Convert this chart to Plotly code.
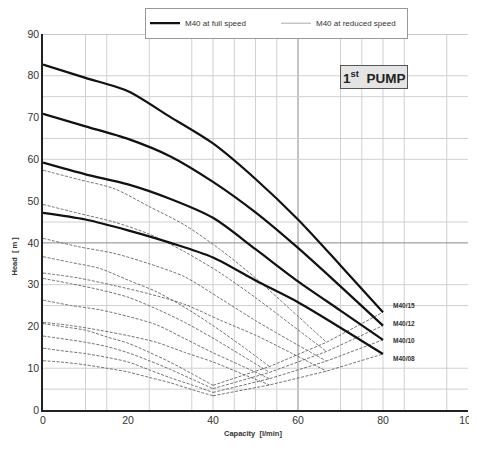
import plotly.graph_objects as go

# ---------------- data ----------------
pumps = ["M40/15", "M40/12", "M40/10", "M40/08"]

# full speed curves
q_full = [0, 10, 20, 30, 40, 50, 60, 70, 80]
h_full = {
    "M40/15": [82.7, 79.5, 76.3, 70.1, 63.8, 55.3, 45.6, 34.6, 23.4],
    "M40/12": [70.9, 67.9, 64.9, 60.7, 54.6, 47.3, 38.8, 29.6, 20.2],
    "M40/10": [59.2, 56.4, 54.0, 50.5, 46.0, 38.5, 30.8, 23.8, 16.8],
    "M40/08": [47.2, 45.6, 43.0, 40.0, 36.5, 31.0, 25.8, 19.7, 13.4],
}

# reduced speed curves (three speeds per pump)
q_red_a = [0, 8.3, 16.7, 25, 33.3, 41.7, 50, 58.3, 66.7]
q_red_b = [0, 6.7, 13.3, 20, 26.7, 33.3, 40, 46.7, 53.3]
q_red_c = [0, 5, 10, 15, 20, 25, 30, 35, 40]
h_red_a = {
    "M40/15": [57.4, 55.2, 53.0, 48.7, 44.3, 38.4, 31.6, 24.0, 16.2],
    "M40/12": [49.2, 47.1, 45.0, 42.1, 37.9, 32.8, 26.9, 20.5, 14.0],
    "M40/10": [41.1, 39.1, 37.5, 35.0, 31.9, 26.7, 21.4, 16.5, 11.7],
    "M40/08": [32.8, 31.6, 29.8, 27.8, 25.3, 21.5, 17.9, 13.7, 9.3],
}
h_red_b = {
    "M40/15": [36.7, 35.3, 33.9, 31.1, 28.3, 24.6, 20.2, 15.4, 10.4],
    "M40/12": [31.5, 30.2, 28.8, 27.0, 24.2, 21.0, 17.2, 13.1, 9.0],
    "M40/10": [26.3, 25.0, 24.0, 22.4, 20.4, 17.1, 13.7, 10.6, 7.5],
    "M40/08": [21.0, 20.2, 19.1, 17.8, 16.2, 13.8, 11.5, 8.7, 6.0],
}
h_red_c = {
    "M40/15": [20.7, 19.9, 19.1, 17.5, 16.0, 13.8, 11.4, 8.7, 5.9],
    "M40/12": [17.7, 17.0, 16.2, 15.2, 13.7, 11.8, 9.7, 7.4, 5.1],
    "M40/10": [14.8, 14.1, 13.5, 12.6, 11.5, 9.6, 7.7, 6.0, 4.2],
    "M40/08": [11.8, 11.4, 10.8, 10.0, 9.1, 7.8, 6.5, 4.9, 3.4],
}

# limit lines joining the curve ends
q_lim = [40, 53.3, 66.7, 80]
h_lim = {
    "M40/15": [5.9, 10.4, 16.2, 23.4],
    "M40/12": [5.1, 9.0, 14.0, 20.2],
    "M40/10": [4.2, 7.5, 11.7, 16.8],
    "M40/08": [3.4, 6.0, 9.3, 13.4],
}

label_y = [25.0, 20.8, 16.6, 12.3]

x_ticks = [0, 20, 40, 60, 80, 100]
y_ticks = [0, 10, 20, 30, 40, 50, 60, 70, 80, 90]
x_grid = [10, 15, 25, 35, 40, 45, 50, 55, 60, 70, 75, 80, 85, 95]
y_grid = [5, 10, 25, 30, 40, 45, 60, 65, 75, 80]
dark_x = [60]
dark_y = [40]

# ---------------- figure ----------------
FONT = "Liberation Sans, Arial, sans-serif"
fig = go.Figure()

red_style = dict(color="#505050", width=0.8, dash="3px,1.5px")
for p in pumps:
    for qq, hh in ((q_red_a, h_red_a[p]), (q_red_b, h_red_b[p]), (q_red_c, h_red_c[p])):
        fig.add_trace(go.Scatter(
            x=qq, y=hh, mode="lines", line=dict(shape="spline", smoothing=0.8, **red_style),
            name="M40 at reduced speed", legendgroup="red", showlegend=False,
            hoverinfo="skip"))
    fig.add_trace(go.Scatter(
        x=q_lim, y=h_lim[p], mode="lines", line=red_style,
        name="M40 at reduced speed", legendgroup="red", showlegend=False, hoverinfo="skip"))

for i, p in enumerate(pumps):
    fig.add_trace(go.Scatter(
        x=q_full, y=h_full[p], mode="lines",
        line=dict(color="#111111", width=2.2, shape="spline", smoothing=0.8),
        name="M40 at full speed", legendgroup="full", showlegend=(i == 0),
        legendrank=1))

# legend entry for reduced speed (solid thin sample like the reference)
fig.add_trace(go.Scatter(
    x=[None], y=[None], mode="lines", line=dict(color="#aaaaaa", width=1),
    name="M40 at reduced speed", legendgroup="red", showlegend=True, legendrank=2))

shapes = []
for gx in x_grid:
    shapes.append(dict(type="line", xref="x", yref="y", x0=gx, x1=gx, y0=0, y1=90,
                       line=dict(color="#8a8a8a" if gx in dark_x else "#d0d0d0", width=1),
                       layer="below"))
for gy in y_grid:
    shapes.append(dict(type="line", xref="x", yref="y", x0=0, x1=100, y0=gy, y1=gy,
                       line=dict(color="#8a8a8a" if gy in dark_y else "#d0d0d0", width=1),
                       layer="below"))
shapes.append(dict(type="line", xref="x", yref="y", x0=0, x1=100, y0=90, y1=90,
                   line=dict(color="#9a9a9a", width=1), layer="below"))

annotations = []
for p, ly in zip(pumps, label_y):
    annotations.append(dict(x=81.9, y=ly, xref="x", yref="y", text="<b>%s</b>" % p,
                            showarrow=False, xanchor="left", yanchor="middle",
                            font=dict(family=FONT, size=6.5, color="#333333")))
annotations.append(dict(x=77.9, y=79.6, xref="x", yref="y",
                        text="<b>1<sup>st</sup>  PUMP</b>", showarrow=False,
                        font=dict(family=FONT, size=13.5, color="#222222"),
                        bgcolor="#e4e4e4", bordercolor="#555555", borderwidth=1,
                        borderpad=2))
annotations.append(dict(x=0.494, y=-0.08, xref="paper", yref="paper",
                        text="<b>Capacity  [l/min]</b>", showarrow=False,
                        font=dict(family=FONT, size=7.5, color="#333333")))
annotations.append(dict(x=-0.082, y=0.41, xref="paper", yref="paper",
                        text="<b>Head  [ m ]</b>", showarrow=False, textangle=-90,
                        font=dict(family=FONT, size=7.5, color="#333333")))

# the page adds an 8px body margin; size the figure so the plot area lands
# at the reference position (43..468 x 34..410 in the window)
fig.update_layout(
    width=469, height=434,
    margin=dict(l=35, r=9, t=26, b=32, autoexpand=False),
    paper_bgcolor="white", plot_bgcolor="white",
    font=dict(family=FONT, color="#333333"),
    shapes=shapes, annotations=annotations,
    showlegend=True,
    legend=dict(orientation="h", xref="paper", yref="paper",
                x=0.24, y=1.07, xanchor="left", yanchor="top",
                font=dict(family=FONT, size=8, color="#333333"),
                bordercolor="#999999", borderwidth=1, bgcolor="white",
                entrywidth=86, entrywidthmode="pixels", tracegroupgap=0,
                itemwidth=30),
    xaxis=dict(range=[0, 100], tickvals=x_ticks, showgrid=False, zeroline=False,
               showline=True, linecolor="#222222", linewidth=1.5, ticks="",
               ticklabeloverflow="allow",
               tickfont=dict(family=FONT, size=10.5, color="#333333")),
    yaxis=dict(range=[0, 90], tickvals=y_ticks, showgrid=False, zeroline=False,
               showline=True, linecolor="#222222", linewidth=1.5, ticks="",
               ticklabeloverflow="allow",
               tickfont=dict(family=FONT, size=10.5, color="#333333")),
)

fig.write_html("out.html")
